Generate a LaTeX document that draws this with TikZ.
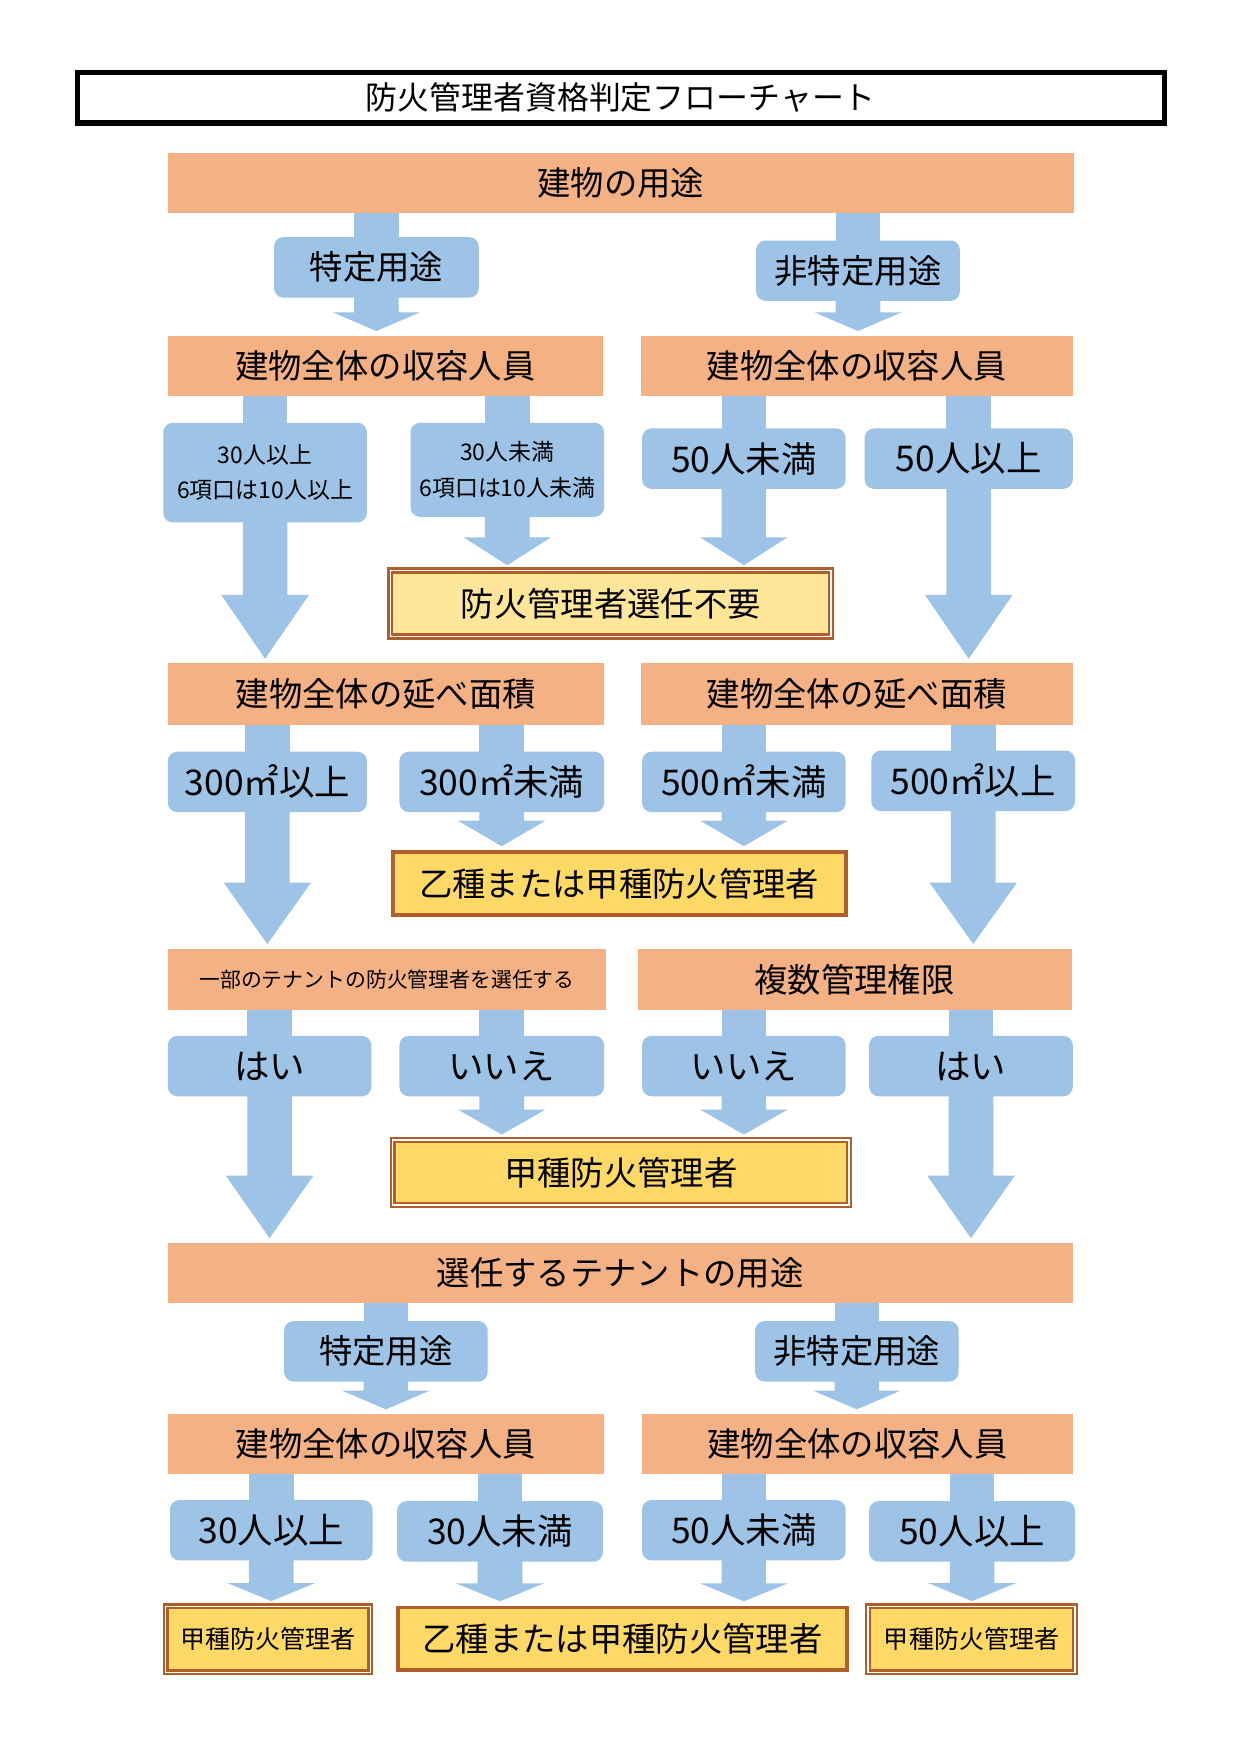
\documentclass[tikz,border=0pt]{standalone}
\usepackage{fontspec}
\setmainfont{Noto Sans CJK JP}
\usetikzlibrary{calc,backgrounds}
\definecolor{orng}{HTML}{F4B183}
\definecolor{blu}{HTML}{9DC3E6}
\definecolor{ylw}{HTML}{FFD966}
\definecolor{ylwl}{HTML}{FFE699}
\definecolor{brn}{HTML}{B05F2B}
\def\arrShaft{10.7pt}
\def\arrHead{21pt}
\newcommand\mkbox[7]{%
  \node[#1,minimum width={(#5-#3)*0.5367pt},minimum height={(#6-#4)*0.5367pt}]
    (#2) at ({(#3+#5)/2},{(#4+#6)/2}) {#7};}
\newcommand\shaftto[2]{%
  \fill[blu] let \p1=(#1.south), \p2=(#2.north) in
    (\x2-\arrShaft,\y1+1pt) rectangle (\x2+\arrShaft,\y2-3pt);}
\newcommand\headto[3]{%
  \fill[blu] let \p1=(#1.south), \p2=(#2.north) in
    (\x1-\arrShaft,\y1+3pt) -- (\x1-\arrShaft,\y2+2pt+#3) -- (\x1-\arrHead,\y2+2pt+#3)
    -- (\x1,\y2+2pt) -- (\x1+\arrHead,\y2+2pt+#3) -- (\x1+\arrShaft,\y2+2pt+#3)
    -- (\x1+\arrShaft,\y1+3pt) -- cycle;}
\begin{document}
\begin{tikzpicture}[x=0.5367pt,y=-0.5367pt,
  big/.style={font=\fontsize{16}{19}\selectfont},
  large/.style={font=\fontsize{17}{20}\selectfont},
  orangebox/.style={fill=orng,inner sep=0pt,big},
  bluebox/.style={fill=blu,inner sep=0pt,rounded corners=4.5pt,big,align=center},
  singlebox/.style={fill=ylw,draw=brn,line width=1.9pt,inner sep=0pt,big},
  doublebox/.style={fill=ylw,draw=brn,line width=1.1pt,double=white,double distance=0.7pt,inner sep=0pt,big},
  titlebox/.style={draw=black,line width=2.5pt,inner sep=0pt,font=\fontsize{15.3}{18}\selectfont}]
\useasboundingbox (0,0) rectangle (1109,1568);

\mkbox{titlebox}{title}{69}{65}{1041}{110}{防火管理者資格判定フローチャート}

% row 1
\mkbox{orangebox}{use1}{150}{137}{960}{190}{建物の用途}
\mkbox{bluebox}{tok1}{245}{212}{428}{266}{特定用途}
\mkbox{bluebox}{hit1}{676}{215}{858}{269}{非特定用途}
\mkbox{orangebox}{capL1}{150}{300}{539}{354}{建物全体の収容人員}
\mkbox{orangebox}{capR1}{573}{300}{959}{354}{建物全体の収容人員}

% row 2
\mkbox{bluebox,font=\fontsize{11}{17}\selectfont}{b30up}{146}{378}{328}{467}{30人以上\\6項口は10人以上}
\mkbox{bluebox,font=\fontsize{11}{17}\selectfont}{b30dn}{367}{378}{540}{462}{30人未満\\6項口は10人未満}
\mkbox{bluebox,large}{b50dn}{574}{383}{756}{437}{50人未満}
\mkbox{bluebox,large}{b50up}{773}{383}{959}{437}{50人以上}
\mkbox{doublebox,fill=ylwl}{fuyou}{349}{510}{743}{569}{防火管理者選任不要}

% row 3
\mkbox{orangebox}{areaL}{150}{593}{540}{648}{建物全体の延べ面積}
\mkbox{orangebox}{areaR}{573}{593}{959}{648}{建物全体の延べ面積}
\mkbox{bluebox,large}{a300up}{150}{672}{328}{726}{300㎡以上}
\mkbox{bluebox,large}{a300dn}{357}{672}{540}{726}{300㎡未満}
\mkbox{bluebox,large}{a500dn}{574}{672}{756}{726}{500㎡未満}
\mkbox{bluebox,large}{a500up}{779}{671}{961}{725}{500㎡以上}
\mkbox{singlebox}{otsu1}{351}{762}{756}{818}{乙種または甲種防火管理者}

% row 4
\mkbox{orangebox,font=\fontsize{10}{12}\selectfont}{tenant}{150}{848}{542}{903}{一部のテナントの防火管理者を選任する}
\mkbox{orangebox}{fukusu}{570}{848}{958}{903}{複数管理権限}
\mkbox{bluebox,large}{yesL}{150}{926}{332}{980}{はい}
\mkbox{bluebox,large}{noL}{357}{926}{540}{980}{いいえ}
\mkbox{bluebox,large}{noR}{574}{926}{756}{980}{いいえ}
\mkbox{bluebox,large}{yesR}{777}{926}{959}{980}{はい}
\mkbox{doublebox}{kou1}{351}{1019}{759}{1077}{甲種防火管理者}

% row 5
\mkbox{orangebox}{use2}{150}{1111}{959}{1165}{選任するテナントの用途}
\mkbox{bluebox}{tok2}{254}{1181}{436}{1235}{特定用途}
\mkbox{bluebox}{hit2}{675}{1181}{857}{1235}{非特定用途}
\mkbox{orangebox}{capL2}{150}{1264}{540}{1318}{建物全体の収容人員}
\mkbox{orangebox}{capR2}{574}{1264}{959}{1318}{建物全体の収容人員}

% row 6
\mkbox{bluebox,large}{c30up}{152}{1341}{333}{1395}{30人以上}
\mkbox{bluebox,large}{c30dn}{355}{1342}{539}{1396}{30人未満}
\mkbox{bluebox,large}{c50dn}{574}{1341}{756}{1395}{50人未満}
\mkbox{bluebox,large}{c50up}{777}{1342}{961}{1396}{50人以上}
\mkbox{doublebox,font=\fontsize{12}{14}\selectfont}{kouL}{148}{1436}{331}{1495}{甲種防火管理者}
\mkbox{singlebox}{otsu2}{356}{1437}{757}{1493}{乙種または甲種防火管理者}
\mkbox{doublebox,font=\fontsize{12}{14}\selectfont}{kouR}{776}{1436}{961}{1495}{甲種防火管理者}

\begin{pgfonlayer}{background}
\fill[white] (0,0) rectangle (1109,1568);
\shaftto{use1}{tok1} \headto{tok1}{capL1}{9pt}
\shaftto{use1}{hit1} \headto{hit1}{capR1}{9pt}
\shaftto{capL1}{b30up} \headto{b30up}{areaL}{30.6pt}
\shaftto{capL1}{b30dn} \headto{b30dn}{fuyou}{13.4pt}
\shaftto{capR1}{b50dn} \headto{b50dn}{fuyou}{13.4pt}
\shaftto{capR1}{b50up} \headto{b50up}{areaR}{30.6pt}
\shaftto{areaL}{a300up} \headto{a300up}{tenant}{29.5pt}
\shaftto{areaL}{a300dn} \headto{a300dn}{otsu1}{12.3pt}
\shaftto{areaR}{a500dn} \headto{a500dn}{otsu1}{12.3pt}
\shaftto{areaR}{a500up} \headto{a500up}{fukusu}{29.5pt}
\shaftto{tenant}{yesL} \headto{yesL}{use2}{30pt}
\shaftto{tenant}{noL} \headto{noL}{kou1}{12pt}
\shaftto{fukusu}{noR} \headto{noR}{kou1}{12pt}
\shaftto{fukusu}{yesR} \headto{yesR}{use2}{30pt}
\shaftto{use2}{tok2} \headto{tok2}{capL2}{9pt}
\shaftto{use2}{hit2} \headto{hit2}{capR2}{9pt}
\shaftto{capL2}{c30up} \headto{c30up}{kouL}{8.6pt}
\shaftto{capL2}{c30dn} \headto{c30dn}{otsu2}{8.6pt}
\shaftto{capR2}{c50dn} \headto{c50dn}{otsu2}{8.6pt}
\shaftto{capR2}{c50up} \headto{c50up}{kouR}{8.6pt}
\end{pgfonlayer}
\end{tikzpicture}
\end{document}
